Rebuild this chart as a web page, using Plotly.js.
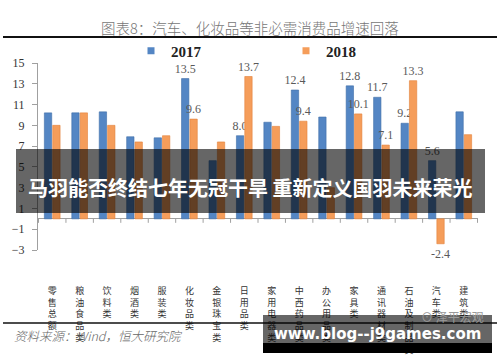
<!DOCTYPE html>
<html>
<head>
<meta charset="utf-8">
<script src="https://cdn.plot.ly/plotly-3.0.1.min.js"></script>
<style>html,body{margin:0;padding:0;background:#fff;}#chart{width:500px;height:362px;}</style>
</head>
<body>
<div id="chart"></div>
<script>
// ---- data ----
const categories = ['零售总额','粮油食品类','饮料类','烟酒类','服装类','化妆品类','金银珠宝类','日用品类','家用电器类','中西药品类','办公用品类','家具类','通讯器材类','石油及制品类','汽车类','建筑类'];
const values2017 = [10.2, 10.2, 10.3, 7.9, 7.8, 13.5, 5.6, 8.0, 9.3, 12.4, 9.8, 12.8, 11.7, 9.2, 5.6, 10.3];
const values2018 = [9.0, 10.2, 9.0, 7.4, 8.0, 9.6, 7.4, 13.7, 8.9, 9.4, 3.0, 10.1, 7.1, 13.3, -2.4, 8.1];
const labeledCategories = ['化妆品类','日用品类','中西药品类','家具类','通讯器材类','石油及制品类','汽车类'];
const seriesNames = ['2017','2018'];
const yTicks = [-3, -1, 1, 3, 5, 7, 9, 11, 13, 15];

const blue = '#5486c4', orange = '#f59d5a';
const labelText = vals => vals.map((v, i) => labeledCategories.includes(categories[i]) ? v.toFixed(1) : '');
const tickText = categories.map(c => c.split('').join('<br>'));

const barCommon = {
  type: 'bar', showlegend: false,
  textposition: 'outside', constraintext: 'none', cliponaxis: false,
  textfont: {family: 'Liberation Serif, serif', size: 12, color: '#595959'},
  hoverinfo: 'x+y'
};
const traces = [
  Object.assign({}, barCommon, {name: seriesNames[0], x: categories, y: values2017, text: labelText(values2017),
    marker: {color: blue, line: {color: '#3f6fa8', width: 0.6}}}),
  Object.assign({}, barCommon, {name: seriesNames[1], x: categories, y: values2018, text: labelText(values2018),
    marker: {color: orange, line: {color: '#e3823a', width: 0.6}}}),
  {type: 'scatter', mode: 'markers', name: seriesNames[0], x: [null], y: [null], legend: 'legend',
    marker: {symbol: 'square', size: 7, color: blue}, hoverinfo: 'skip'},
  {type: 'scatter', mode: 'markers', name: seriesNames[1], x: [null], y: [null], legend: 'legend2',
    marker: {symbol: 'square', size: 7, color: orange}, hoverinfo: 'skip'}
];

// pixel helpers for decorations (plot area: x 38..478, y 63..250)
const px = x => (x - 38) / 440;
const py = y => (250 - y) / 187;

// small tick marks under the zero line at category boundaries
const boundaryTicks = [];
for (let i = 0; i <= categories.length; i++) {
  boundaryTicks.push({type: 'line', xref: 'x', yref: 'y', ysizemode: 'pixel', yanchor: 0,
    x0: i - 0.5, x1: i - 0.5, y0: 0, y1: -4, line: {color: '#a0a0a0', width: 1}, layer: 'below'});
}

const legendCommon = {orientation: 'h', xanchor: 'left', yanchor: 'middle', y: py(51), bgcolor: 'rgba(0,0,0,0)',
  font: {family: 'Liberation Serif, serif', size: 15, color: '#222', weight: 'bold'}};

const layout = {
  width: 500, height: 362,
  margin: {l: 38, r: 22, t: 63, b: 112},
  paper_bgcolor: '#fff', plot_bgcolor: '#fff',
  barmode: 'group', bargap: 0.39, bargroupgap: 0.12,
  title: {text: '图表8：汽车、化妆品等非必需消费品增速回落', x: 0.5, xref: 'container', xanchor: 'center',
    y: 1 - 28.5/362, yref: 'container', yanchor: 'middle',
    font: {family: 'Noto Sans CJK SC, sans-serif', size: 14.5, color: '#777', weight: 300}},
  xaxis: {type: 'category', categoryorder: 'array', categoryarray: categories,
    tickvals: categories, ticktext: tickText, tickangle: 0, ticks: '', showline: false, showgrid: false,
    zeroline: false, automargin: false, ticklabelstandoff: 34,
    tickfont: {family: 'Noto Sans CJK SC, sans-serif', size: 9, color: '#333'}},
  yaxis: {range: [-3, 15], tickvals: yTicks, ticks: 'outside', ticklen: 5, tickcolor: '#a0a0a0',
    showline: true, linecolor: '#a0a0a0', linewidth: 1, showgrid: false,
    zeroline: true, zerolinecolor: '#a0a0a0', zerolinewidth: 1,
    automargin: false, ticklabelstandoff: 5,
    tickfont: {family: 'Liberation Serif, serif', size: 12, color: '#333'}},
  legend: Object.assign({}, legendCommon, {x: px(131)}),
  legend2: Object.assign({}, legendCommon, {x: px(286)}),
  shapes: boundaryTicks.concat([
    {type: 'line', xref: 'paper', yref: 'paper', x0: px(3), x1: px(497), y0: py(37), y1: py(37), line: {color: '#111', width: 2}, layer: 'above'},
    {type: 'line', xref: 'paper', yref: 'paper', x0: px(3), x1: px(497), y0: py(323), y1: py(323), line: {color: '#111', width: 1.5}, layer: 'above'},
    {type: 'rect', xref: 'paper', yref: 'paper', x0: px(16), x1: px(485), y0: py(149), y1: py(213), fillcolor: 'rgba(0,0,0,0.6)', line: {width: 0}, layer: 'above'},
    {type: 'rect', xref: 'paper', yref: 'paper', x0: px(263), x1: px(492), y0: py(315), y1: py(343), fillcolor: 'rgba(0,0,0,0.6)', line: {width: 0}, layer: 'above'},
    {type: 'rect', xref: 'paper', yref: 'paper', x0: px(263), x1: px(492), y0: py(343), y1: py(353), fillcolor: '#000', line: {width: 0}, layer: 'above'}
  ]),
  annotations: [
    {text: '马羽能否终结七年无冠干旱 重新定义国羽未来荣光', xref: 'paper', yref: 'paper', x: px(250), y: py(187),
      xanchor: 'center', yanchor: 'middle', showarrow: false,
      font: {family: 'Noto Sans CJK SC, sans-serif', size: 20, color: '#fff', weight: 'bold'}},
    {text: '⊙ 泽平宏观', xref: 'paper', yref: 'paper', x: px(452), y: py(316), xanchor: 'center', yanchor: 'middle', showarrow: false,
      font: {family: 'Noto Sans CJK SC, sans-serif', size: 12, color: '#9a9a9a'}},
    {text: 'www.blog--j9games.com', xref: 'paper', yref: 'paper', x: px(377), y: py(334), xanchor: 'center', yanchor: 'middle', showarrow: false,
      font: {family: 'DejaVu Sans, sans-serif', size: 15, color: '#fff', weight: 'bold'}},
    {text: '<i>资料来源：Wind，恒大研究院</i>', xref: 'paper', yref: 'paper', x: px(12), y: py(335), xanchor: 'left', yanchor: 'middle', showarrow: false,
      font: {family: 'Noto Sans CJK SC, Liberation Serif, serif', size: 12.5, color: '#666', weight: 300}}
  ]
};

Plotly.newPlot('chart', traces, layout, {displayModeBar: false, responsive: false, staticPlot: true});
</script>
</body>
</html>
